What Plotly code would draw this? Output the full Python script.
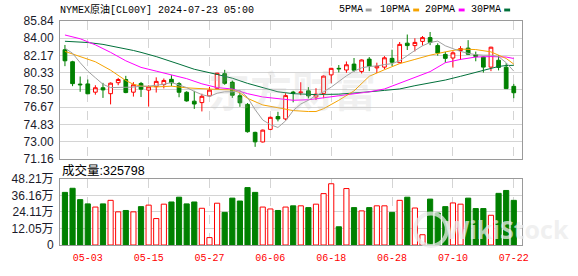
import plotly.graph_objects as go

# ---------------- data ----------------
dates = ["04-30", "05-01", "05-02", "05-03", "05-06", "05-07", "05-08", "05-09", "05-10",
         "05-13", "05-14", "05-15", "05-16", "05-17", "05-20", "05-21", "05-22", "05-23",
         "05-24", "05-27", "05-28", "05-29", "05-30", "05-31", "06-03", "06-04", "06-05",
         "06-06", "06-07", "06-10", "06-11", "06-12", "06-13", "06-14", "06-17", "06-18",
         "06-19", "06-20", "06-21", "06-24", "06-25", "06-26", "06-27", "06-28", "07-01",
         "07-02", "07-03", "07-04", "07-05", "07-08", "07-09", "07-10", "07-11", "07-12",
         "07-15", "07-16", "07-17", "07-18", "07-19", "07-22"]

opens = [82.78, 81.50, 79.12, 79.14, 78.26, 78.73, 78.10, 79.27, 79.61, 78.26,
         79.19, 78.48, 78.85, 79.07, 79.63, 79.17, 78.25, 77.30, 77.15, 77.86,
         78.66, 80.23, 79.32, 77.88, 76.96, 73.98, 72.96, 74.30, 75.67, 75.41,
         78.27, 78.20, 78.40, 77.75, 78.12, 80.10, 80.80, 80.62, 81.25, 80.47,
         81.78, 80.85, 80.93, 81.86, 81.40, 83.48, 83.22, 83.67, 84.07, 83.22,
         82.28, 81.90, 82.70, 82.95, 82.25, 82.00, 80.93, 81.66, 80.92, 78.88]
highs = [83.29, 81.60, 79.93, 79.61, 79.00, 79.25, 79.30, 79.78, 80.00, 79.33,
         79.35, 79.00, 79.84, 79.72, 80.07, 79.33, 78.36, 78.40, 78.10, 78.82,
         80.32, 80.64, 79.50, 78.20, 77.10, 74.05, 74.28, 75.66, 76.17, 78.15,
         78.40, 79.32, 78.80, 78.68, 80.05, 80.85, 81.15, 81.53, 81.90, 81.75,
         82.00, 81.40, 82.10, 82.78, 83.60, 84.40, 84.00, 84.24, 84.67, 83.46,
         82.55, 82.62, 83.16, 83.80, 82.58, 82.05, 83.10, 82.20, 81.35, 79.14]
lows = [81.03, 78.90, 78.30, 78.05, 77.99, 77.65, 76.96, 79.00, 78.15, 77.79,
        77.75, 76.72, 78.22, 78.66, 78.90, 77.72, 77.25, 76.48, 76.21, 77.79,
        78.60, 79.05, 77.65, 76.70, 73.95, 72.44, 72.90, 74.22, 75.15, 75.25,
        77.18, 77.93, 77.60, 77.42, 77.62, 79.22, 80.37, 80.33, 80.42, 80.25,
        80.50, 80.30, 80.70, 81.05, 81.35, 82.75, 82.60, 83.22, 83.27, 82.15,
        81.40, 80.88, 81.70, 82.25, 81.55, 80.35, 80.50, 80.58, 78.60, 77.62]
closes = [81.60, 79.17, 79.05, 78.09, 78.73, 78.50, 79.22, 79.61, 78.22, 79.05,
          78.58, 78.83, 79.41, 79.51, 79.26, 78.25, 77.33, 77.00, 77.82, 78.48,
          80.28, 79.20, 77.93, 77.13, 74.05, 72.97, 74.22, 75.58, 75.41, 77.90,
          78.13, 78.27, 77.87, 78.05, 79.97, 80.80, 80.75, 81.18, 80.60, 81.69,
          81.02, 81.02, 81.92, 81.45, 83.35, 83.22, 83.56, 84.07, 83.56, 82.43,
          81.86, 82.45, 82.90, 82.30, 82.05, 80.93, 83.05, 80.90, 78.64, 78.20]

# volume in 万 (10k contracts)
volumes = [38.4, 41.4, 33.1, 30.0, 27.7, 30.0, 32.6, 24.2, 25.2, 24.2,
           28.0, 29.1, 19.3, 29.8, 31.4, 34.9, 30.0, 31.4, 26.8, 5.4,
           30.5, 23.8, 34.2, 32.1, 41.9, 38.4, 27.7, 26.3, 25.2, 27.7,
           28.6, 28.6, 27.3, 29.8, 37.5, 44.7, 13.3, 41.2, 27.3, 24.9,
           27.3, 28.6, 28.6, 23.8, 32.6, 34.9, 27.0, 7.5, 33.5, 23.3,
           28.0, 30.7, 29.8, 34.2, 26.6, 26.6, 21.7, 37.7, 39.8, 32.58]
last_volume = 325798

ma5 = [82.95, 82.40, 81.40, 80.50, 79.80, 79.10, 78.75, 78.75, 78.80, 78.80,
       78.90, 78.90, 79.00, 79.10, 79.30, 79.05, 78.75, 78.35, 78.00, 77.80,
       78.15, 78.30, 78.30, 78.45, 77.70, 76.40, 75.30, 74.80, 74.50, 75.20,
       76.30, 77.00, 77.40, 77.90, 78.30, 78.80, 79.40, 80.00, 80.50, 80.85,
       81.00, 81.05, 81.20, 81.30, 81.60, 82.20, 82.70, 83.20, 83.55, 83.70,
       83.20, 82.90, 82.60, 82.40, 82.25, 82.20, 82.20, 82.05, 81.40, 80.50]

ma10_idx = [0, 2, 4, 6, 8, 9, 10, 12, 14, 16, 18, 20, 22, 23, 24, 26, 28, 30, 32, 33,
            34, 36, 38, 40, 42, 44, 46, 48, 50, 52, 54, 56, 58, 59]
ma10 = [82.60, 82.05, 81.50, 80.60, 79.50, 79.10, 78.90, 78.82, 78.90, 78.72,
        78.60, 78.55, 78.50, 78.20, 77.60, 76.90, 76.60, 76.30, 76.20, 76.20,
        76.50, 77.40, 78.40, 79.95, 80.65, 81.30, 81.75, 82.20, 82.55, 82.85,
        82.80, 82.55, 81.85, 81.25]

ma20_idx = [0, 2, 4, 6, 8, 10, 12, 14, 16, 18, 20, 22, 24, 26, 28, 30, 32, 34, 36,
            38, 40, 42, 44, 46, 48, 50, 52, 54, 56, 58, 59]
ma20 = [84.35, 83.95, 83.30, 82.50, 81.60, 80.90, 80.50, 80.10, 79.70, 79.15,
        78.75, 78.60, 78.10, 77.75, 77.55, 77.40, 77.45, 77.65, 77.90, 78.05,
        78.30, 78.60, 79.20, 79.80, 80.45, 81.40, 81.75, 82.00, 82.05, 82.00, 81.85]

ma30_idx = [0, 3, 5, 7, 9, 10, 12, 15, 17, 20, 22, 24, 26, 28, 30, 33, 36, 38, 40,
            42, 44, 46, 48, 50, 52, 54, 56, 57, 58, 59]
ma30 = [83.68, 83.55, 83.35, 83.05, 82.70, 82.50, 82.05, 81.25, 80.70, 80.15,
        79.75, 79.20, 78.75, 78.30, 78.10, 78.00, 78.05, 78.15, 78.30, 78.45,
        78.60, 78.95, 79.25, 79.55, 79.95, 80.35, 80.80, 81.00, 81.10, 81.12]

price_ticks = [85.84, 84.00, 82.17, 80.33, 78.50, 76.67, 74.83, 73.00, 71.16]
vol_ticks = [0, 12.05, 24.11, 36.16, 48.21]
vol_ticktext = ["0", "12.05万", "24.11万", "36.16万", "48.21万"]
date_tick_idx = [3, 11, 19, 27, 35, 43, 51, 59]

title_text = "NYMEX原油[CL00Y] 2024-07-23 05:00"
ma_names = ["5PMA", "10PMA", "20PMA", "30PMA"]

# ---------------- styles ----------------
RED = "#ff0000"
GREEN = "#008000"
MA_COLORS = ["#a0a0a0", "#f5a300", "#ff00ff", "#00703a"]
GRID = "#d4d4d4"
FRAME = "#9a9a9a"

W, H = 578, 276
L, R, T, B = 55, 56, 21, 21
PLOT_W = W - L - R
PLOT_H = H - T - B


def px(x):
    return (x - L) / PLOT_W


def py(y):
    return (H - B - y) / PLOT_H


idx = list(range(len(dates)))
fig = go.Figure()

fig.add_trace(go.Candlestick(
    x=idx, open=opens, high=highs, low=lows, close=closes,
    increasing=dict(line=dict(color=RED, width=1), fillcolor="#ffffff"),
    decreasing=dict(line=dict(color=GREEN, width=1), fillcolor=GREEN),
    whiskerwidth=0, hoverinfo="skip", showlegend=False,
    xaxis="x", yaxis="y"))

for vals, xs, col in [(ma30, ma30_idx, MA_COLORS[3]), (ma20, ma20_idx, MA_COLORS[2]),
                      (ma10, ma10_idx, MA_COLORS[1]), (ma5, idx, MA_COLORS[0])]:
    fig.add_trace(go.Scatter(x=xs, y=vals, mode="lines", line=dict(color=col, width=1),
                             hoverinfo="skip", showlegend=False, xaxis="x", yaxis="y"))

up = [c >= o for o, c in zip(opens, closes)]
fig.add_trace(go.Bar(
    x=idx, y=volumes, width=0.68,
    marker=dict(color=["#ffffff" if u else GREEN for u in up],
                line=dict(color=[RED if u else GREEN for u in up], width=1)),
    hoverinfo="skip", showlegend=False, xaxis="x2", yaxis="y2"))

xrange = [-0.65, 60.08]
price_dom = [py(165), 1.0]
vol_dom = [0.0, py(186)]

axis_common = dict(showline=True, linecolor=FRAME, linewidth=1, mirror=True,
                   zeroline=False, fixedrange=True)

fig.update_layout(
    width=W, height=H,
    margin=dict(l=L, r=R, t=T, b=B, pad=0),
    paper_bgcolor="#ffffff", plot_bgcolor="#ffffff",
    showlegend=False,
    boxgap=0.3,
    xaxis=dict(domain=[0, 1], range=xrange, tickvals=date_tick_idx,
               showticklabels=False, showgrid=True, gridcolor=GRID, griddash="dash",
               gridwidth=1, rangeslider=dict(visible=False), anchor="y", **axis_common),
    yaxis=dict(domain=price_dom, range=[price_ticks[-1], price_ticks[0]],
               tickvals=price_ticks, ticktext=[f"{v:.2f}" for v in price_ticks],
               showgrid=True, gridcolor=GRID, gridwidth=1, anchor="x",
               tickfont=dict(family="Liberation Sans, Arial", size=12, color="#1a1a2a"),
               ticks="outside", ticklen=3, tickcolor="#ffffff", **axis_common),
    xaxis2=dict(domain=[0, 1], range=xrange, tickvals=date_tick_idx,
                ticktext=[dates[i] for i in date_tick_idx], showgrid=True,
                gridcolor=GRID, griddash="dash", gridwidth=1, anchor="y2",
                tickfont=dict(family="Liberation Mono, DejaVu Sans Mono", size=10, color=RED),
                ticks="outside", ticklen=3, tickcolor="#ffffff", **axis_common),
    yaxis2=dict(domain=vol_dom, range=[0, vol_ticks[-1]], tickvals=vol_ticks,
                ticktext=vol_ticktext, showgrid=True, gridcolor=GRID, gridwidth=1,
                anchor="x2",
                tickfont=dict(family="Liberation Sans, Noto Sans CJK SC", size=12, color="#1a1a2a"),
                ticks="outside", ticklen=3, tickcolor="#ffffff", **axis_common),
)

mono = "Liberation Mono, Noto Sans CJK SC"
ann = []
ann.append(dict(x=px(53), y=py(9), xref="paper", yref="paper", text=title_text,
                showarrow=False, xanchor="left", yanchor="middle",
                font=dict(family=mono, size=10, color="#000000")))
legend_x = [335, 376, 422, 468]
sq_x = [364, 412, 458, 504]
shapes = []
for name, lx, sx, col in zip(ma_names, legend_x, sq_x, MA_COLORS):
    ann.append(dict(x=px(lx), y=py(9), xref="paper", yref="paper", text=name,
                    showarrow=False, xanchor="left", yanchor="middle",
                    font=dict(family=mono, size=10, color="#000000")))
    shapes.append(dict(type="rect", xref="paper", yref="paper",
                       x0=px(sx), x1=px(sx + 6), y0=py(11), y1=py(8),
                       fillcolor=col, line=dict(width=0)))
ann.append(dict(x=px(55), y=py(177), xref="paper", yref="paper",
                text=f"成交量:{last_volume}", showarrow=False, xanchor="left",
                yanchor="middle",
                font=dict(family="Liberation Sans, Noto Sans CJK SC", size=12.5, color="#000000")))
# watermarks
ann.append(dict(x=px(290), y=py(92), xref="paper", yref="paper", text="<b>东方财富</b>",
                showarrow=False, xanchor="center", yanchor="middle",
                font=dict(family="Noto Sans CJK SC", size=42, color="rgba(190,190,190,0.22)")))
ann.append(dict(x=px(507), y=py(238), xref="paper", yref="paper", text="<b>WikiStock</b>",
                showarrow=False, xanchor="center", yanchor="middle",
                font=dict(family="Open Sans, Liberation Sans", size=25, color="rgba(235,235,235,0.75)")))
shapes.append(dict(type="circle", xref="paper", yref="paper",
                   x0=px(414), x1=px(446), y0=py(222), y1=py(256),
                   line=dict(color="rgba(235,235,235,0.75)", width=4),
                   fillcolor="rgba(0,0,0,0)"))
fig.update_layout(annotations=ann, shapes=shapes)

fig.write_html("out.html")
